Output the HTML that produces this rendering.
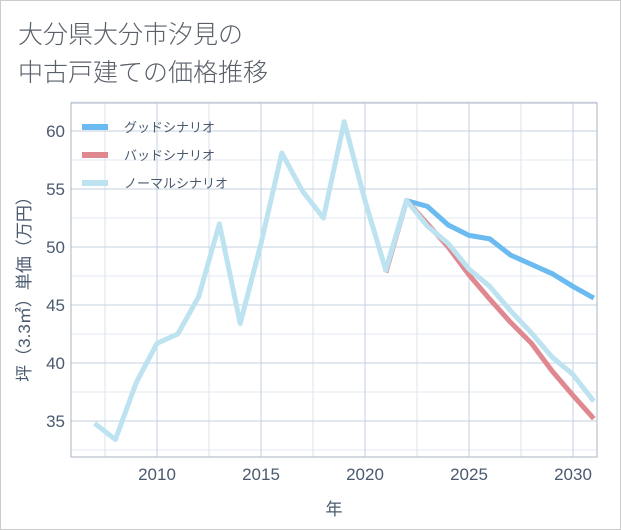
<!DOCTYPE html>
<html><head><meta charset="utf-8"><style>
body{margin:0;background:#fff;font-family:"Liberation Sans","Noto Sans CJK JP",sans-serif;}
#wrap{position:relative;width:619px;height:528px;border:1px solid #ccc;}
.title{position:absolute;left:17px;font-size:25px;color:#5a6069;font-weight:300;}
</style></head><body>
<div id="wrap">
<div class="title" style="top:14px">大分県大分市汐見の</div>
<div class="title" style="top:52px">中古戸建ての価格推移</div>
<svg id="chart" width="621" height="530" style="position:absolute;left:-1px;top:-1px"></svg>
</div>
<script>
const years=[2007,2008,2009,2010,2011,2012,2013,2014,2015,2016,2017,2018,2019,2020,2021,2022,2023,2024,2025,2026,2027,2028,2029,2030,2031];
const normalVals=[34.8,33.4,38.3,41.7,42.5,45.7,52.0,43.4,50.3,58.1,54.8,52.5,60.8,54.0,48.0,54.0,51.8,50.3,48.1,46.6,44.5,42.6,40.5,39.0,36.7];
const goodVals=[null,null,null,null,null,null,null,null,null,null,null,null,null,null,48.0,54.0,53.5,51.9,51.0,50.7,49.3,48.5,47.7,46.6,45.6];
const badVals=[null,null,null,null,null,null,null,null,null,null,null,null,null,null,47.8,54.0,52.0,50.0,47.6,45.5,43.5,41.7,39.3,37.2,35.2];
const xTicks=[2010,2015,2020,2025,2030];
const yTicks=[35,40,45,50,55,60];
const legendLabels=["グッドシナリオ","バッドシナリオ","ノーマルシナリオ"];
const L=71,R=597,T=103,B=457;
const x=v=>157+(v-2010)*20.8;
const y=v=>131+(60-v)*11.6;
const svg=document.getElementById('chart');const NS='http://www.w3.org/2000/svg';
function mk(t,a){const e=document.createElementNS(NS,t);for(const k in a)e.setAttribute(k,a[k]);svg.appendChild(e);return e;}
for(let yr=2007.5;yr<2031;yr+=2.5){const g=mk('line',{x1:x(yr),x2:x(yr),y1:T,y2:B,stroke:'#dbe3ec','stroke-width':1});

}
for(let v=32.5;v<63;v+=2.5){const g=mk('line',{x1:L,x2:R,y1:y(v),y2:y(v),stroke:(v%5===0)?'#c4d2e0':'#e3e9f0','stroke-width':1});

}
xTicks.forEach(t=>{const g=mk('line',{x1:x(t),x2:x(t),y1:T,y2:B,stroke:'#c4d2e0'});


const tx=mk('text',{x:x(t),y:480,'text-anchor':'middle','font-size':17,fill:'#4a5a6e'});tx.textContent=t;

});
yTicks.forEach(t=>{const tx=mk('text',{x:65,y:y(t)+6,'text-anchor':'end','font-size':17,fill:'#4a5a6e'});tx.textContent=t;

});
const fr=mk('rect',{x:L,y:T,width:R-L,height:B-T,fill:'none',stroke:'#a8b4c0'});


function line(vals,color,name){let d='';vals.forEach((v,i)=>{if(v===null)return;d+=(d?'L':'M')+x(years[i])+','+y(v);});
const p=mk('path',{d:d,fill:'none',stroke:color,'stroke-width':5,'stroke-linejoin':'round'});

}
line(goodVals,'#6bbbf0','good-scenario-line');
line(badVals,'#e08890','bad-scenario-line');
line(normalVals,'#bde3f0','normal-scenario-line');
const colors=['#6bbbf0','#e08890','#bde3f0'];
legendLabels.forEach((lab,i)=>{const ly=127+i*28;
const s=mk('line',{x1:82,x2:108,y1:ly,y2:ly,stroke:colors[i],'stroke-width':6});


const t=mk('text',{x:124,y:ly+5,'font-size':13,fill:'#4a5a6e'});t.textContent=lab;

});
const xt=mk('text',{x:334,y:515,'text-anchor':'middle','font-size':17,fill:'#4a5a6e'});xt.textContent='年';


const yt=mk('text',{x:0,y:0,'text-anchor':'middle','font-size':17,fill:'#4a5a6e',transform:'translate(30,285) rotate(-90)'});yt.textContent='坪（3.3㎡）単価（万円）';


</script>
</body></html>
